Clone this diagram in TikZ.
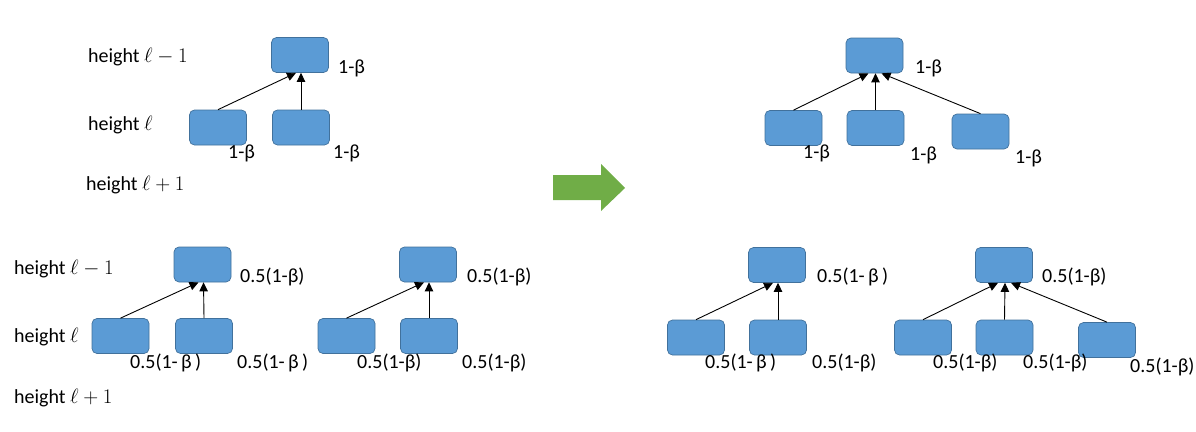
\documentclass[tikz,border=0pt]{standalone}
\usepackage{fontspec}
\setmainfont{Carlito}
\usepackage{tikz}
\usetikzlibrary{arrows.meta}
\definecolor{boxblue}{RGB}{91,155,213}
\definecolor{boxedge}{RGB}{65,113,156}
\definecolor{arrowgreen}{RGB}{112,173,71}

\begin{document}
\begin{tikzpicture}[x=1pt, y=-1pt,
    block/.style={draw=boxedge, fill=boxblue, line width=0.7pt, rounded corners=5pt,
                  minimum width=57pt, minimum height=35pt, inner sep=0pt},
    lbl/.style={anchor=west, inner sep=0pt, font=\fontsize{20}{24}\selectfont},
    up/.style={-{Triangle[length=9pt,width=8.5pt]}, line width=0.9pt}]
    \useasboundingbox (0,0) rectangle (1196,431);

    % Height labels
    \node[lbl] (hta) at (88,57) {height $\ell - 1$};
    \node[lbl] (htb) at (88,125) {height $\ell$};
    \node[lbl] (htc) at (86,185) {height $\ell + 1$};
    \node[lbl] (hba) at (14,269) {height $\ell - 1$};
    \node[lbl] (hbb) at (14,337) {height $\ell$};
    \node[lbl] (hbc) at (14,398) {height $\ell + 1$};

    % Top-left tree
    \node[block] (tlp) at (300,55) {};
    \node[block] (tlc1) at (218,127.5) {};
    \node[block] (tlc2) at (301,127.5) {};
    \node[lbl] (tlpw) at (338,68) {1-β};
    \node[lbl] (tlc1w) at (228,153) {1-β};
    \node[lbl] (tlc2w) at (333,153) {1-β};
    \draw[up] (tlc1.north) -- ([xshift=-4pt]tlp.south);
    \draw[up] (tlc2.north) -- ([xshift=1pt]tlp.south);

    % Big arrow
    \fill[arrowgreen] (553,175) -- (601,175) -- (601,164) -- (625,188)
        -- (601,211) -- (601,200) -- (553,200) -- cycle;

    % Top-right tree
    \node[block] (trp) at (874.5,55.5) {};
    \node[block] (trc1) at (793.5,128) {};
    \node[block] (trc2) at (875.5,128) {};
    \node[block] (trc3) at (980.5,131.5) {};
    \node[lbl] (trpw) at (915,68) {1-β};
    \node[lbl] (trc1w) at (803,153) {1-β};
    \node[lbl] (trc2w) at (910,155) {1-β};
    \node[lbl] (trc3w) at (1015,158) {1-β};
    \draw[up] (trc1.north) -- ([xshift=-6pt]trp.south);
    \draw[up] (trc2.north) -- ([xshift=1pt]trp.south);
    \draw[up] (trc3.north) -- ([xshift=7pt]trp.south);

    % Bottom-left trees
    \node[block] (ap) at (202.5,264.5) {};
    \node[block] (ac1) at (120.5,336) {};
    \node[block] (ac2) at (204,336) {};
    \node[lbl] (apw) at (240,277) {0.5(1-β)};
    \node[lbl] (ac1w) at (130,363) {0.5(1-\,β\,)};
    \node[lbl] (ac2w) at (237,363) {0.5(1-\,β\,)};
    \draw[up] (ac1.north) -- ([xshift=-4pt]ap.south);
    \draw[up] (ac2.north) -- ([xshift=1pt]ap.south);

    \node[block] (bp) at (428,264.5) {};
    \node[block] (bc1) at (346.5,336) {};
    \node[block] (bc2) at (429,336) {};
    \node[lbl] (bpw) at (467,277) {0.5(1-β)};
    \node[lbl] (bc1w) at (357,363) {0.5(1-β)};
    \node[lbl] (bc2w) at (462,363) {0.5(1-β)};
    \draw[up] (bc1.north) -- ([xshift=-4pt]bp.south);
    \draw[up] (bc2.north) -- ([xshift=1pt]bp.south);

    % Bottom-right trees
    \node[block] (cp) at (777,265) {};
    \node[block] (cc1) at (696,337.5) {};
    \node[block] (cc2) at (778,337.5) {};
    \node[lbl] (cpw) at (817,277) {0.5(1-\,β\,)};
    \node[lbl] (cc1w) at (705,363) {0.5(1-\,β\,)};
    \node[lbl] (cc2w) at (812,363) {0.5(1-β)};
    \draw[up] (cc1.north) -- ([xshift=-4pt]cp.south);
    \draw[up] (cc2.north) -- ([xshift=1pt]cp.south);

    \node[block] (dp) at (1004,265) {};
    \node[block] (dc1) at (923,337.5) {};
    \node[block] (dc2) at (1004.5,337.5) {};
    \node[block] (dc3) at (1107,340) {};
    \node[lbl] (dpw) at (1042,277) {0.5(1-β)};
    \node[lbl] (dc1w) at (933,363) {0.5(1-β)};
    \node[lbl] (dc2w) at (1023,363) {0.5(1-β)};
    \node[lbl] (dc3w) at (1130,367) {0.5(1-β)};
    \draw[up] (dc1.north) -- ([xshift=-6pt]dp.south);
    \draw[up] (dc2.north) -- ([xshift=1pt]dp.south);
    \draw[up] (dc3.north) -- ([xshift=7pt]dp.south);
\end{tikzpicture}
\end{document}
